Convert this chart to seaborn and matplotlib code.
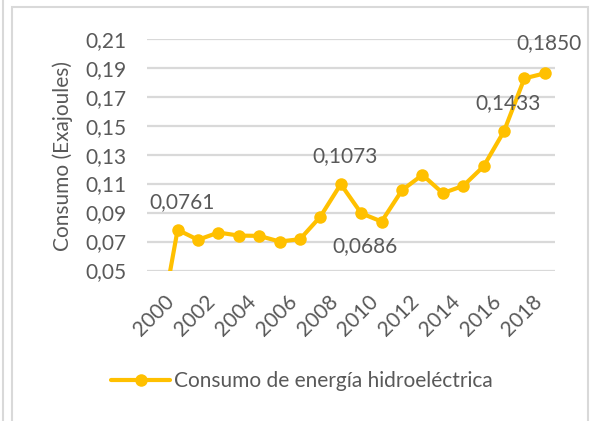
import numpy as np
import pandas as pd
import matplotlib
matplotlib.use("Agg")
import matplotlib.pyplot as plt
import matplotlib.transforms as mtransforms
from matplotlib.patches import Rectangle
from matplotlib.lines import Line2D
import seaborn as sns

# Data
years = list(range(2000, 2020))
consumo = [0.0, 0.0781, 0.0712, 0.0762, 0.0741, 0.0739, 0.0700, 0.0716, 0.0872, 0.1096,
           0.0895, 0.0838, 0.1054, 0.1160, 0.1034, 0.1084, 0.1219, 0.1461, 0.1826, 0.1861]
label_years = [2001, 2009, 2010, 2017, 2019]
label_texts = ["0,0761", "0,1073", "0,0686", "0,1433", "0,1850"]
label_dy = [28, 28, -33, 28, 30]   # pixel offsets of the data labels
yticks = [0.05, 0.07, 0.09, 0.11, 0.13, 0.15, 0.17, 0.19, 0.21]
xtick_years = list(range(2000, 2020, 2))

gold = "#FFC000"
txt = "#595959"
grid = "#D9D9D9"
fs = 15

sns.set_style("white")
plt.rcParams['font.family'] = ['Lato', 'DejaVu Sans']

df = pd.DataFrame({"pos": np.arange(len(years)), "consumo": consumo})

fig = plt.figure(figsize=(5.96, 4.21), dpi=100)
ax = fig.add_axes([147 / 596, 1 - 270.5 / 421, (555 - 147) / 596, (270.5 - 38.7) / 421])

sns.lineplot(data=df, x="pos", y="consumo", ax=ax, color=gold, linewidth=3,
             marker="o", markersize=9, markeredgewidth=0, markeredgecolor=gold)

ax.set_xlim(-0.5, len(years) - 0.5)
ax.set_ylim(0.05, 0.21)
ax.set_yticks(yticks)
ax.set_yticklabels([f"{v:.2f}".replace(".", ",") for v in yticks], color=txt, fontsize=fs)
ax.yaxis.grid(True, color=grid, linewidth=1.6)
ax.set_axisbelow(True)
ax.tick_params(axis="y", length=0, pad=15)

xt = [years.index(y) for y in xtick_years]
ax.set_xticks(xt)
ax.set_xticklabels([str(y) for y in xtick_years], rotation=45, ha="right", va="top",
                   rotation_mode="anchor", color=txt, fontsize=fs)
ax.tick_params(axis="x", length=0, pad=15)
shift = mtransforms.ScaledTranslation(7 / 100, 0, fig.dpi_scale_trans)
for lab in ax.get_xticklabels():
    lab.set_transform(lab.get_transform() + shift)

ax.set_xlabel("")
ax.set_ylabel("")
for s in ax.spines.values():
    s.set_visible(False)

# data labels
for yr, t, dy in zip(label_years, label_texts, label_dy):
    i = years.index(yr)
    ax.annotate(t, (i, consumo[i]), xytext=(4, dy), textcoords="offset pixels",
                ha="center", va="center", color=txt, fontsize=fs, annotation_clip=False)

fig.text(63 / 596, 1 - 156 / 421, "Consumo (Exajoules)", rotation=90, ha="center",
         va="center", color=txt, fontsize=fs)

# legend
handle = Line2D([], [], color=gold, linewidth=3, marker="o", markersize=9, markeredgewidth=0)
fig.legend([handle], ["Consumo de energía hidroeléctrica"], loc="center",
           bbox_to_anchor=(302 / 596, 1 - 381 / 421), frameon=False, fontsize=fs,
           labelcolor=txt, handlelength=2.8, handletextpad=0.2)

# chart borders
fig.patches.append(Rectangle((12 / 596, -0.05), (588 - 12) / 596, 1.05 - 7 / 421,
                             transform=fig.transFigure, fill=False, edgecolor=grid,
                             linewidth=1.5))
fig.lines.append(Line2D([3 / 596, 3 / 596], [0, 1], transform=fig.transFigure,
                        color=grid, linewidth=1.5))

fig.savefig("out.png", dpi=100, facecolor="white")
